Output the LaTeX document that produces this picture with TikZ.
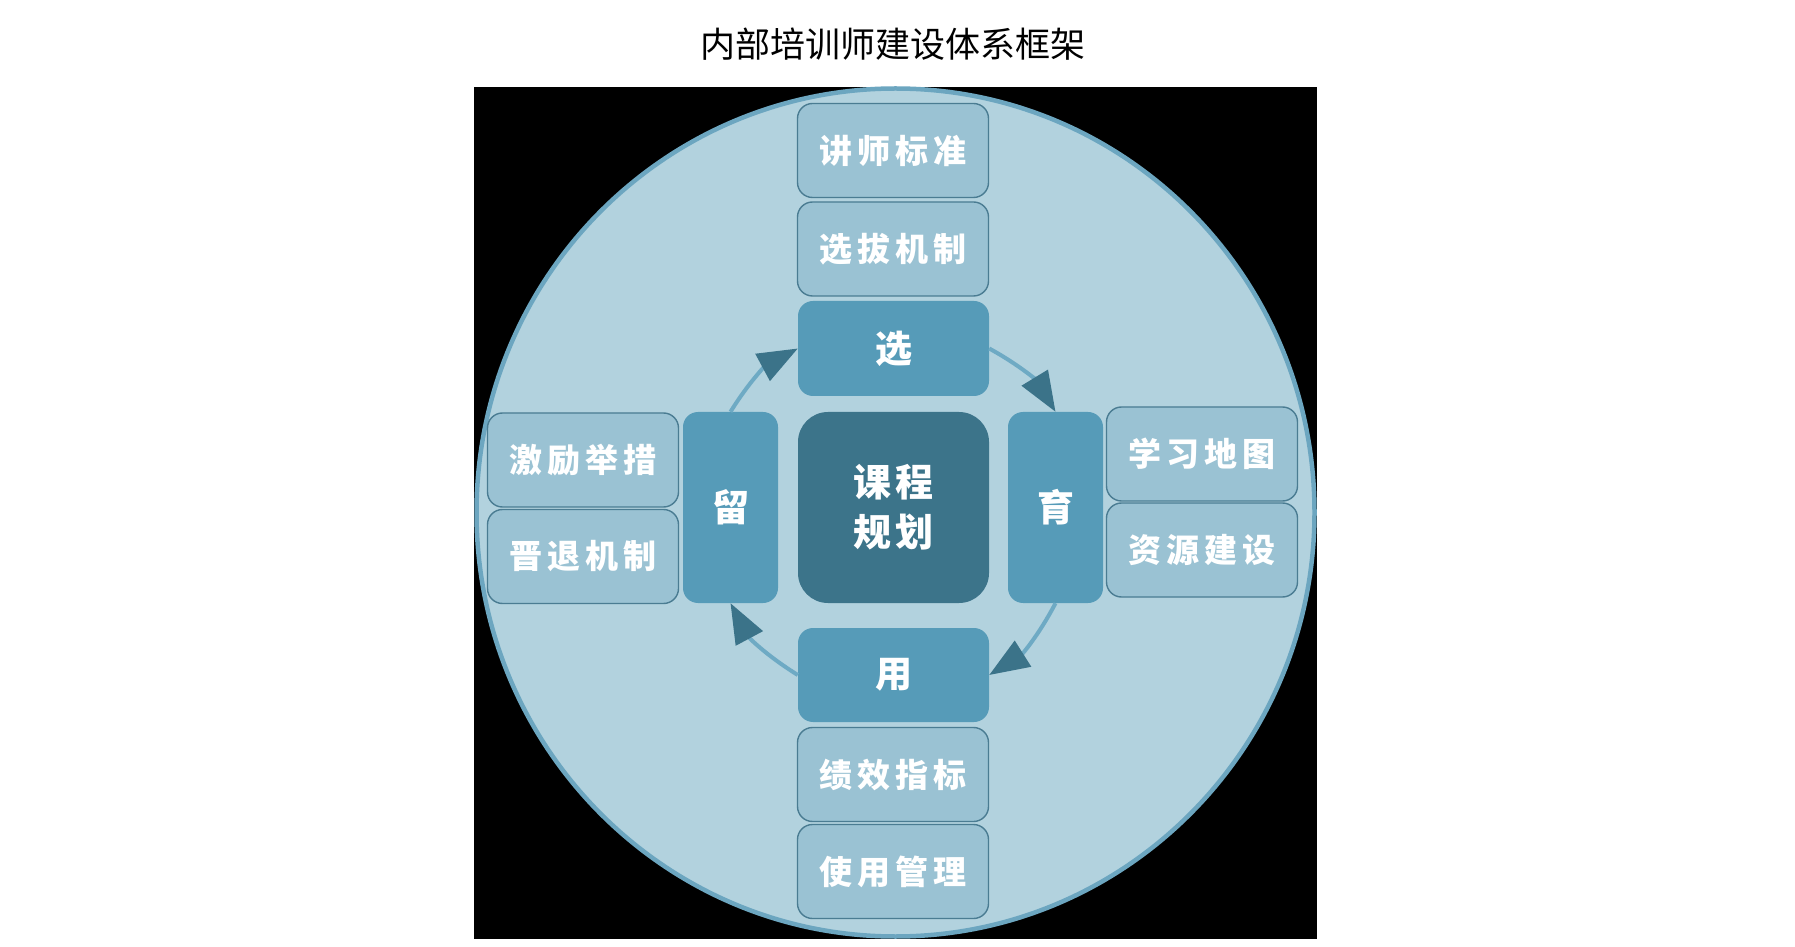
\documentclass[tikz,border=0pt]{standalone}
\usepackage{fontspec}
\setmainfont{Noto Sans CJK SC}
\newfontfamily\titlefont{Noto Sans CJK SC}
\newfontfamily\boxfont[LetterSpace=16]{Noto Sans CJK SC}
\newfontfamily\hubfont[LetterSpace=10]{Noto Sans CJK SC}
\usetikzlibrary{arrows.meta}
\definecolor{ringfill}{HTML}{B2D2DE}
\definecolor{ringline}{HTML}{6CA6C0}
\definecolor{boxfill}{HTML}{9AC2D3}
\definecolor{boxline}{HTML}{4A7C92}
\definecolor{midfill}{HTML}{569BB8}
\definecolor{hubfill}{HTML}{3C748A}
\definecolor{arrowc}{HTML}{3B7389}
\definecolor{arcline}{HTML}{6EAAC4}
\tikzset{
  outerbox/.style={draw=boxline, line width=1.4pt, fill=boxfill, rounded corners=15pt,
    minimum width=191pt, minimum height=94pt, inner sep=0pt, text=white,
    font=\boxfont\bfseries\fontsize{33}{33}\selectfont},
  midbox/.style={fill=midfill, rounded corners=15pt, inner sep=0pt, text=white,
    font=\hubfont\bfseries\fontsize{37}{37}\selectfont},
  hubbox/.style={fill=hubfill, rounded corners=30pt, minimum width=191pt, minimum height=191pt,
    inner sep=0pt, text=white, align=center,
    font=\hubfont\bfseries\fontsize{38}{50}\selectfont},
  cycarrow/.style={draw=arcline, line width=4pt,
    -{Triangle[length=40pt,width=30pt,color=arrowc]}, bend left=15},
}
\begin{document}
\begin{tikzpicture}[x=1pt,y=1pt]
\useasboundingbox (0,0) rectangle (1795,946);
\node[font=\titlefont\fontsize{35}{35}\selectfont, text=black] (title) at (893,902) {内部培训师建设体系框架};
\fill[black] (474,7) rectangle (1317,859);
\begin{scope}
  \clip (474,7) rectangle (1317,859);
  \draw[draw=ringline, fill=ringfill, line width=4.5pt] (895.5,433.5) ellipse [x radius=419, y radius=424];
\end{scope}
% column
\node[outerbox] (jsbz) at (893,795.5) {讲师标准};
\node[outerbox] (xbjz) at (893,697) {选拔机制};
\node[midbox, minimum width=191pt, minimum height=95pt] (xuan) at (893.5,597.5) {选};
\node[hubbox] (hub) at (893.5,438.5) {课程\\规划};
\node[midbox, minimum width=191pt, minimum height=94pt] (yong) at (893.5,271) {用};
\node[outerbox] (jxzb) at (893,171.5) {绩效指标};
\node[outerbox] (sygl) at (893,74.5) {使用管理};
% row
\node[midbox, minimum width=95pt, minimum height=191pt] (liu) at (730.5,438.5) {留};
\node[midbox, minimum width=95pt, minimum height=191pt] (yu) at (1055.5,438.5) {育};
\node[outerbox] (jlju) at (583,486) {激励举措};
\node[outerbox] (jtjz) at (583,389.5) {晋退机制};
\node[outerbox] (xxdt) at (1202,492) {学习地图};
\node[outerbox] (zyjs) at (1202,396) {资源建设};
% cycle
\draw[cycarrow] (xuan.east) to (yu.north);
\draw[cycarrow] (yu.south) to (yong.east);
\draw[cycarrow] (yong.west) to (liu.south);
\draw[cycarrow] (liu.north) to (xuan.west);
\end{tikzpicture}
\end{document}
